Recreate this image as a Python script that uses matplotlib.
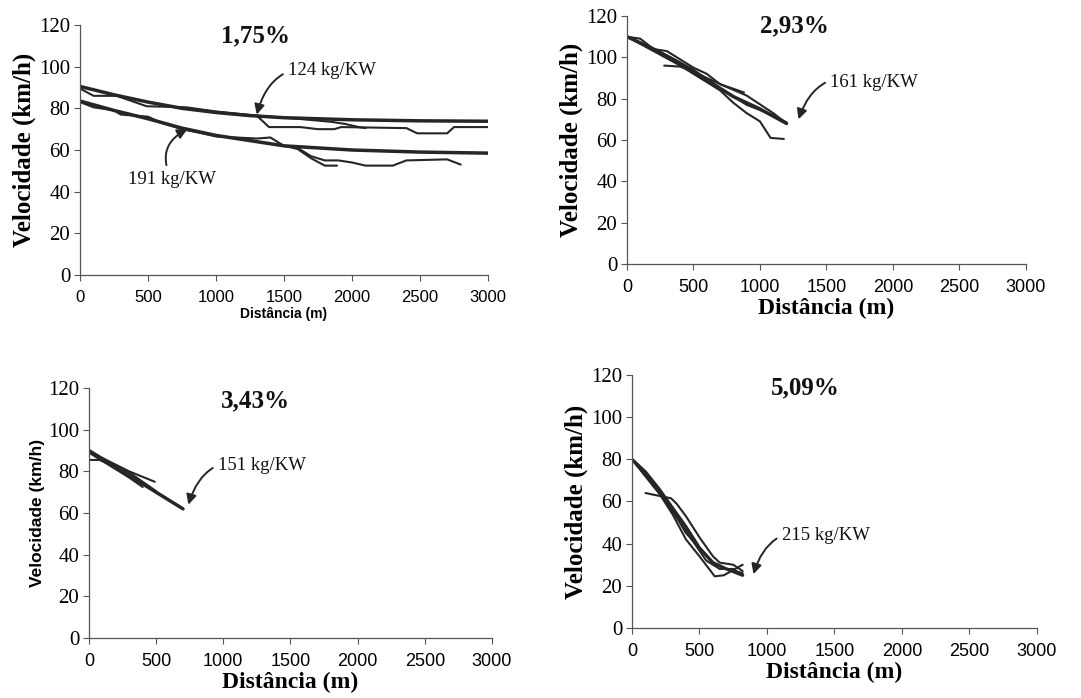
import matplotlib
matplotlib.use("Agg")
import matplotlib.pyplot as plt

SERIF = "Liberation Serif"
SANS = "Liberation Sans"
INK = "#262626"

# ---- 1,75 % ----
p1_x_up_a = [0, 250, 500, 750, 1000, 1250, 1500, 2000, 2500, 3000]
p1_y_up_a = [90.5, 86.5, 83, 80, 78, 76.5, 75.5, 74.5, 74, 73.8]
p1_x_up_b = [0, 100, 270, 490, 780, 1000, 1300, 1390, 1620, 1750, 1870, 1920, 2400, 2480, 2700, 2750, 3000]
p1_y_up_b = [89.5, 86, 86, 81, 80.5, 78.5, 76.5, 71, 71, 70, 70, 71, 70.5, 68, 68, 71, 71]
p1_x_up_c = [1300, 1600, 1850, 1950, 2050, 2100]
p1_y_up_c = [76.5, 75, 73.5, 72.5, 71, 70.5]
p1_x_lo_a = [0, 250, 500, 750, 1000, 1250, 1500, 2000, 2500, 3000]
p1_y_lo_a = [83.5, 79, 75, 70.5, 67, 64.5, 62, 60, 59, 58.5]
p1_x_lo_b = [0, 100, 250, 300, 500, 600, 750, 900, 1000, 1300, 1400, 1500, 1600, 1700, 1800, 1900, 2000, 2100, 2300, 2400, 2700, 2800]
p1_y_lo_b = [83, 80.5, 79, 77, 76, 73, 70, 68, 66.5, 65.5, 66, 62, 61, 57, 55, 55, 54, 52.5, 52.5, 55, 55.5, 53]
p1_x_lo_c = [1500, 1600, 1700, 1800, 1890]
p1_y_lo_c = [62, 60.5, 56, 52.5, 52.5]

# ---- 2,93 % ----
p2_x_a = [0, 200, 400, 600, 800, 1000, 1200]
p2_y_a = [110, 104, 97, 89, 81, 75, 68]
p2_x_b = [0, 100, 200, 300, 400, 500, 600, 700, 900, 1100, 1200]
p2_y_b = [110, 109, 104, 103, 99, 95, 92, 87, 81.5, 73, 68]
p2_x_c = [0, 200, 400, 600, 700, 800, 900, 1000, 1050, 1080, 1180]
p2_y_c = [110, 103, 96, 88, 84, 78, 73, 69, 64, 61, 60.5]
p2_x_d = [280, 400, 500, 600, 700, 880]
p2_y_d = [96, 95.5, 93, 90, 87, 83]
p2_x_e = [0, 300, 500, 700, 900, 1100, 1200]
p2_y_e = [110, 101, 94, 85, 77, 72, 68.5]

# ---- 3,43 % ----
p3_x_a = [0, 100, 200, 300, 400, 500, 600, 700]
p3_y_a = [90, 86, 82, 78, 74, 70, 66, 62]
p3_x_b = [0, 300, 400]
p3_y_b = [89, 77, 72.5]
p3_x_c = [0, 80, 200, 300, 400, 500]
p3_y_c = [85.5, 85.5, 82, 79.5, 75, 70.5]
p3_x_d = [50, 300, 490]
p3_y_d = [88, 80, 75]

# ---- 5,09 % ----
p4_x_a = [0, 100, 200, 300, 400, 500, 600, 700, 820]
p4_y_a = [80, 74, 66, 57, 48, 38, 31, 28, 25]
p4_x_b = [0, 200, 300, 400, 500, 600, 700, 820]
p4_y_b = [80, 65, 56, 45, 38, 30.5, 28, 26]
p4_x_c = [0, 200, 300, 400, 500, 613, 680, 820]
p4_y_c = [80, 64, 54, 42, 34, 24.5, 25, 30]
p4_x_d = [100, 290, 330, 400, 500, 600, 650, 750, 820]
p4_y_d = [64, 61.5, 59, 53, 43, 34, 31, 30, 27]
p4_x_e = [0, 250, 400, 550, 650, 750, 820]
p4_y_e = [80, 60, 46, 32, 28, 28, 25]

x_ticks = [0, 500, 1000, 1500, 2000, 2500, 3000]
y_ticks = [0, 20, 40, 60, 80, 100, 120]


def setup_axes(ax, title, title_pos, ylab_font, ylab_size, xlab_font, xlab_size, xtick_size):
    ax.set_xlim(0, 3000)
    ax.set_ylim(0, 120)
    ax.spines["top"].set_visible(False)
    ax.spines["right"].set_visible(False)
    for s in ("left", "bottom"):
        ax.spines[s].set_color("#555555")
        ax.spines[s].set_linewidth(0.9)
    ax.set_xticks(x_ticks)
    ax.set_yticks(y_ticks)
    ax.tick_params(axis="both", length=4, width=0.8, color="#555555")
    ax.tick_params(axis="x", pad=7)
    ax.tick_params(axis="y", pad=3)
    for lab in ax.get_xticklabels():
        lab.set_fontfamily(SANS)
        lab.set_fontsize(xtick_size)
    for lab in ax.get_yticklabels():
        lab.set_fontfamily(SERIF)
        lab.set_fontsize(15)
    ax.set_ylabel("Velocidade (km/h)", fontfamily=ylab_font, fontsize=ylab_size,
                  fontweight="bold", labelpad=2)
    ax.set_xlabel("Distância (m)", fontfamily=xlab_font, fontsize=xlab_size,
                  fontweight="bold", labelpad=1)
    ax.text(title_pos[0], title_pos[1], title, transform=ax.transAxes,
            ha="center", va="center", fontfamily=SERIF, fontsize=18,
            fontweight="bold", color="#111111")


def curve(ax, x, y, lw=1.5):
    ax.plot(x, y, color=INK, lw=lw, solid_capstyle="round")


def label(ax, text, xy, xytext, rad):
    ax.annotate(text, xy=xy, xytext=xytext, textcoords="data",
                fontfamily=SERIF, fontsize=13.5, color="#111111",
                ha="left", va="center",
                arrowprops=dict(arrowstyle="-|>", color=INK, lw=1.4,
                                mutation_scale=15,
                                connectionstyle="arc3,rad=%s" % rad,
                                shrinkA=2, shrinkB=0))


fig = plt.figure(figsize=(10.81, 6.98), dpi=100)

ax1 = fig.add_axes([0.074, 0.606, 0.3774, 0.3582])
curve(ax1, p1_x_up_a, p1_y_up_a, 2.5)
curve(ax1, p1_x_up_b, p1_y_up_b)
curve(ax1, p1_x_up_c, p1_y_up_c)
curve(ax1, p1_x_lo_a, p1_y_lo_a, 2.5)
curve(ax1, p1_x_lo_b, p1_y_lo_b)
curve(ax1, p1_x_lo_c, p1_y_lo_c)
setup_axes(ax1, "1,75%", (0.43, 0.955), SERIF, 18, SANS, 10, 12)
label(ax1, "124 kg/KW", (1300, 77), (1530, 98), 0.5)
label(ax1, "191 kg/KW", (790, 70), (350, 46), -0.5)

ax2 = fig.add_axes([0.580, 0.6218, 0.369, 0.3553])
curve(ax2, p2_x_a, p2_y_a, 2.5)
curve(ax2, p2_x_b, p2_y_b)
curve(ax2, p2_x_c, p2_y_c)
curve(ax2, p2_x_d, p2_y_d)
curve(ax2, p2_x_e, p2_y_e)
setup_axes(ax2, "2,93%", (0.42, 0.96), SERIF, 18, SERIF, 17, 13)
label(ax2, "161 kg/KW", (1290, 70), (1530, 88), 0.5)

ax3 = fig.add_axes([0.0823, 0.086, 0.3728, 0.358])
curve(ax3, p3_x_a, p3_y_a, 2.5)
curve(ax3, p3_x_b, p3_y_b)
curve(ax3, p3_x_c, p3_y_c)
curve(ax3, p3_x_d, p3_y_d)
setup_axes(ax3, "3,43%", (0.414, 0.95), SANS, 12.5, SERIF, 17, 13)
label(ax3, "151 kg/KW", (740, 64), (960, 83), 0.5)

ax4 = fig.add_axes([0.5846, 0.1003, 0.3747, 0.3625])
curve(ax4, p4_x_a, p4_y_a, 2.3)
curve(ax4, p4_x_b, p4_y_b)
curve(ax4, p4_x_c, p4_y_c)
curve(ax4, p4_x_d, p4_y_d)
curve(ax4, p4_x_e, p4_y_e)
setup_axes(ax4, "5,09%", (0.427, 0.95), SERIF, 18, SERIF, 17, 13)
label(ax4, "215 kg/KW", (900, 25.5), (1110, 44), 0.5)

fig.savefig("out.png", dpi=100, facecolor="white")
